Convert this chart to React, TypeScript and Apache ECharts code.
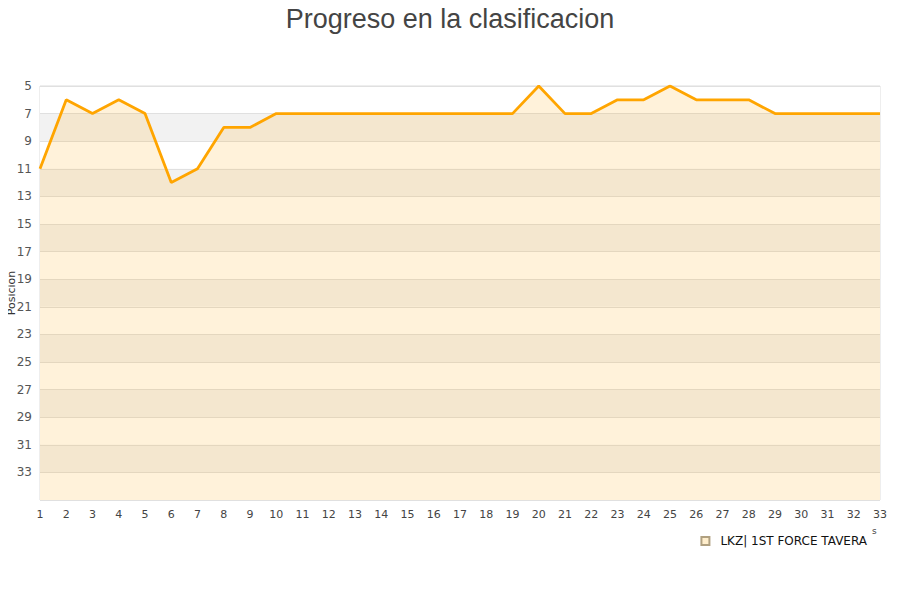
import React, { useEffect, useRef } from 'react';
import * as echarts from 'echarts';

const rounds = Array.from({ length: 33 }, (_, i) => String(i + 1));
const teamName = 'LKZ| 1ST FORCE TAVERA';
const positions = [11, 6, 7, 6, 7, 12, 11, 8, 8, 7, 7, 7, 7, 7, 7, 7, 7, 7, 7, 5, 7, 7, 6, 6, 5, 6, 6, 6, 7, 7, 7, 7, 7];

const App: React.FC = () => {
  const chartRef = useRef<HTMLDivElement | null>(null);

  useEffect(() => {
    const chart = echarts.init(chartRef.current!, undefined, { renderer: 'svg' });

    const font = '"DejaVu Sans", Verdana, sans-serif';

    chart.setOption({
      animation: false,
      title: {
        text: 'Progreso en la clasificacion',
        left: 'center',
        top: 0,
        textStyle: { fontFamily: '"Liberation Sans", Arial, sans-serif', fontSize: 27, fontWeight: 'normal', color: '#444' },
      },
      grid: {
        left: 40,
        right: 20,
        top: 86,
        bottom: 100,
        containLabel: false,
        outerBoundsMode: 'none',
        show: true,
        borderColor: '#ddd',
        borderWidth: 1,
      },
      legend: {
        data: [teamName],
        right: 28,
        top: 530,
        itemWidth: 8,
        itemHeight: 8,
        icon: 'rect',
        textStyle: { fontFamily: font, fontSize: 12, color: '#111', padding: [0, 0, 0, 6] },
      },
      xAxis: {
        type: 'category',
        data: rounds,
        boundaryGap: false,
        axisLine: { show: false },
        axisTick: { show: false },
        splitLine: { show: false },
        axisLabel: { fontFamily: font, fontSize: 11, color: '#444', margin: 9 },
      },
      yAxis: {
        type: 'value',
        inverse: true,
        min: 5,
        max: 35,
        interval: 2,
        axisLine: { show: false },
        axisTick: { show: false },
        axisLabel: {
          fontFamily: font,
          fontSize: 12,
          color: '#555',
          margin: 8,
          formatter: (v: number) => (v === 35 ? '' : String(v)),
        },
        splitLine: { show: true, lineStyle: { color: '#e0e0e0', width: 1 } },
        splitArea: { show: true, areaStyle: { color: ['#ffffff', '#f2f2f2'] } },
      },
      series: [
        {
          name: teamName,
          type: 'line',
          data: positions,
          showSymbol: false,
          symbol: 'none',
          lineStyle: { color: '#ffa500', width: 2.8 },
          itemStyle: { color: '#ffeecc', borderColor: '#b0a080', borderWidth: 1 },
          areaStyle: { color: 'rgba(255,165,0,0.21)', origin: 'end' },
        },
      ],
      graphic: [
        {
          type: 'text',
          x: 11,
          y: 293,
          rotation: Math.PI / 2,
          style: {
            text: 'Posicion',
            fontFamily: font,
            fontSize: 11,
            fill: '#333',
            align: 'center',
            verticalAlign: 'middle',
          },
        },
        { type: 'text', left: 872, top: 526, style: { text: 's', fontFamily: font, fontSize: 9, fill: '#444' } },
      ],
    });

    return () => {
      chart.dispose();
    };
  }, []);

  return <div ref={chartRef} style={{ width: '900px', height: '600px', margin: '-8px' }} />;
};

export default App;
